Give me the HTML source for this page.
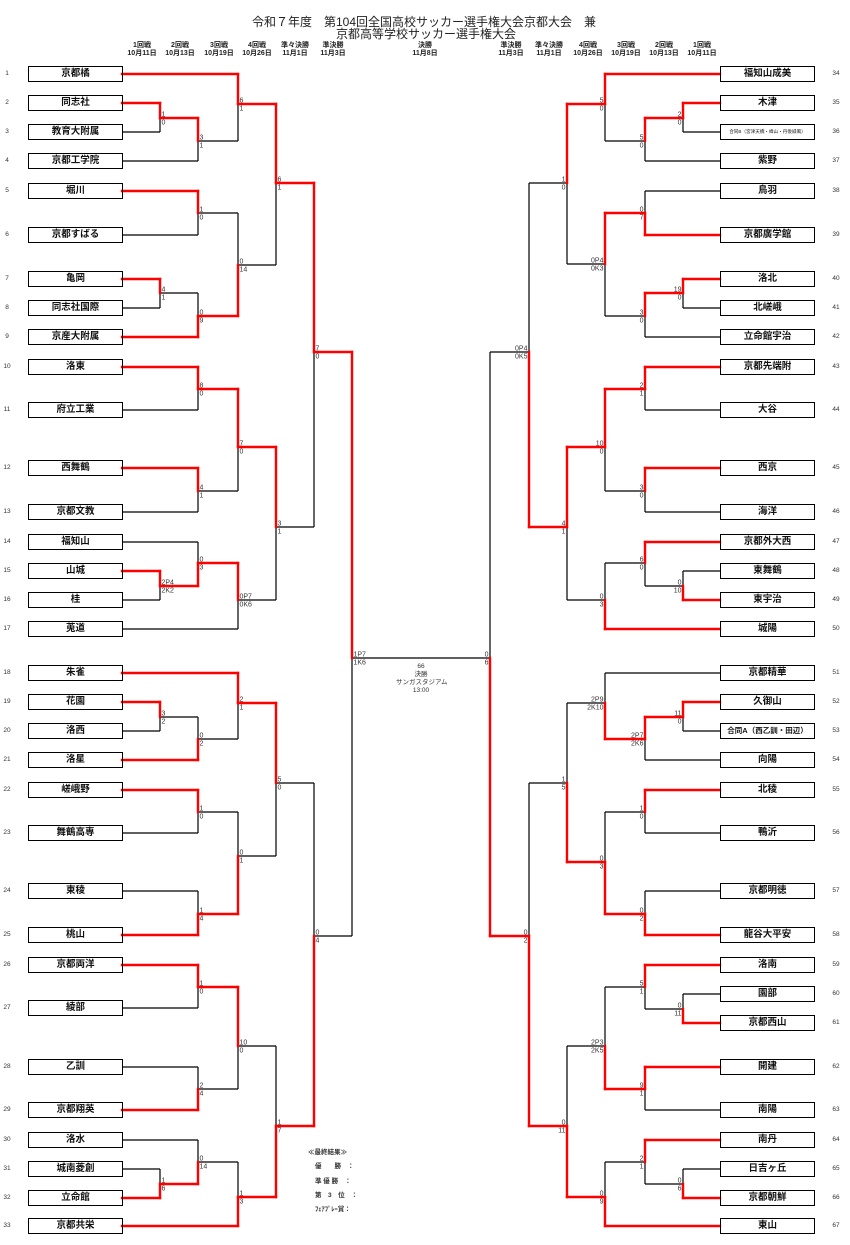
<!DOCTYPE html>
<html><head><meta charset="utf-8">
<style>
html,body{margin:0;padding:0;background:#fff;}
body{width:850px;height:1245px;position:relative;overflow:hidden;font-family:"Liberation Sans","Noto Sans CJK JP",sans-serif;color:#111;}
.b{position:absolute;width:95px;height:16px;border:1.4px solid #000;box-sizing:border-box;font-size:9.5px;line-height:13px;text-align:center;font-weight:bold;white-space:nowrap;overflow:hidden;}
.l{left:28px}.r{left:720px}
.n{position:absolute;font-size:6.5px;width:20px;text-align:center;color:#333;}
.nl{left:-3px}.nr{left:826px}
.h{position:absolute;font-size:7px;font-weight:bold;text-align:center;width:50px;line-height:8px;color:#222;}
.t{position:absolute;font-size:12px;color:#222;white-space:nowrap;}
.s{position:absolute;font-size:6.5px;color:#333;white-space:nowrap;}
svg{position:absolute;left:0;top:0;}
</style></head><body>
<div class="t" style="left:252px;top:13px">令和７年度　第104回全国高校サッカー選手権大会京都大会　兼</div>
<div class="t" style="left:336px;top:25px">京都高等学校サッカー選手権大会</div>

<div class="h" style="left:117px;top:42px">1回戦<br>10月11日</div>
<div class="h" style="left:155px;top:42px">2回戦<br>10月13日</div>
<div class="h" style="left:194px;top:42px">3回戦<br>10月19日</div>
<div class="h" style="left:232px;top:42px">4回戦<br>10月26日</div>
<div class="h" style="left:270px;top:42px">準々決勝<br>11月1日</div>
<div class="h" style="left:308px;top:42px">準決勝<br>11月3日</div>
<div class="h" style="left:400px;top:42px">決勝<br>11月8日</div>
<div class="h" style="left:486px;top:42px">準決勝<br>11月3日</div>
<div class="h" style="left:524px;top:42px">準々決勝<br>11月1日</div>
<div class="h" style="left:563px;top:42px">4回戦<br>10月26日</div>
<div class="h" style="left:601px;top:42px">3回戦<br>10月19日</div>
<div class="h" style="left:639px;top:42px">2回戦<br>10月13日</div>
<div class="h" style="left:677px;top:42px">1回戦<br>10月11日</div>

<svg id="g" width="850" height="1245" xmlns="http://www.w3.org/2000/svg"></svg>

<!-- left teams -->
<div class="b l" style="top:66px">京都橘</div><div class="n nl" style="top:70px">1</div>
<div class="b l" style="top:95px">同志社</div><div class="n nl" style="top:99px">2</div>
<div class="b l" style="top:124px">教育大附属</div><div class="n nl" style="top:128px">3</div>
<div class="b l" style="top:153px">京都工学院</div><div class="n nl" style="top:157px">4</div>
<div class="b l" style="top:183px">堀川</div><div class="n nl" style="top:187px">5</div>
<div class="b l" style="top:227px">京都すばる</div><div class="n nl" style="top:231px">6</div>
<div class="b l" style="top:271px">亀岡</div><div class="n nl" style="top:275px">7</div>
<div class="b l" style="top:300px">同志社国際</div><div class="n nl" style="top:304px">8</div>
<div class="b l" style="top:329px">京産大附属</div><div class="n nl" style="top:333px">9</div>
<div class="b l" style="top:359px">洛東</div><div class="n nl" style="top:363px">10</div>
<div class="b l" style="top:402px">府立工業</div><div class="n nl" style="top:406px">11</div>
<div class="b l" style="top:460px">西舞鶴</div><div class="n nl" style="top:464px">12</div>
<div class="b l" style="top:504px">京都文教</div><div class="n nl" style="top:508px">13</div>
<div class="b l" style="top:534px">福知山</div><div class="n nl" style="top:538px">14</div>
<div class="b l" style="top:563px">山城</div><div class="n nl" style="top:567px">15</div>
<div class="b l" style="top:592px">桂</div><div class="n nl" style="top:596px">16</div>
<div class="b l" style="top:621px">莵道</div><div class="n nl" style="top:625px">17</div>
<div class="b l" style="top:665px">朱雀</div><div class="n nl" style="top:669px">18</div>
<div class="b l" style="top:694px">花園</div><div class="n nl" style="top:698px">19</div>
<div class="b l" style="top:723px">洛西</div><div class="n nl" style="top:727px">20</div>
<div class="b l" style="top:752px">洛星</div><div class="n nl" style="top:756px">21</div>
<div class="b l" style="top:782px">嵯峨野</div><div class="n nl" style="top:786px">22</div>
<div class="b l" style="top:825px">舞鶴高専</div><div class="n nl" style="top:829px">23</div>
<div class="b l" style="top:883px">東稜</div><div class="n nl" style="top:887px">24</div>
<div class="b l" style="top:927px">桃山</div><div class="n nl" style="top:931px">25</div>
<div class="b l" style="top:957px">京都両洋</div><div class="n nl" style="top:961px">26</div>
<div class="b l" style="top:1000px">綾部</div><div class="n nl" style="top:1004px">27</div>
<div class="b l" style="top:1059px">乙訓</div><div class="n nl" style="top:1063px">28</div>
<div class="b l" style="top:1102px">京都翔英</div><div class="n nl" style="top:1106px">29</div>
<div class="b l" style="top:1132px">洛水</div><div class="n nl" style="top:1136px">30</div>
<div class="b l" style="top:1161px">城南菱創</div><div class="n nl" style="top:1165px">31</div>
<div class="b l" style="top:1190px">立命館</div><div class="n nl" style="top:1194px">32</div>
<div class="b l" style="top:1218px">京都共栄</div><div class="n nl" style="top:1222px">33</div>

<!-- right teams -->
<div class="b r" style="top:66px">福知山成美</div><div class="n nr" style="top:70px">34</div>
<div class="b r" style="top:95px">木津</div><div class="n nr" style="top:99px">35</div>
<div class="b r" style="top:124px;font-size:4.6px;font-weight:normal">合同B（宮津天橋・峰山・丹後緑風）</div><div class="n nr" style="top:128px">36</div>
<div class="b r" style="top:153px">紫野</div><div class="n nr" style="top:157px">37</div>
<div class="b r" style="top:183px">鳥羽</div><div class="n nr" style="top:187px">38</div>
<div class="b r" style="top:227px">京都廣学館</div><div class="n nr" style="top:231px">39</div>
<div class="b r" style="top:271px">洛北</div><div class="n nr" style="top:275px">40</div>
<div class="b r" style="top:300px">北嵯峨</div><div class="n nr" style="top:304px">41</div>
<div class="b r" style="top:329px">立命館宇治</div><div class="n nr" style="top:333px">42</div>
<div class="b r" style="top:359px">京都先端附</div><div class="n nr" style="top:363px">43</div>
<div class="b r" style="top:402px">大谷</div><div class="n nr" style="top:406px">44</div>
<div class="b r" style="top:460px">西京</div><div class="n nr" style="top:464px">45</div>
<div class="b r" style="top:504px">海洋</div><div class="n nr" style="top:508px">46</div>
<div class="b r" style="top:534px">京都外大西</div><div class="n nr" style="top:538px">47</div>
<div class="b r" style="top:563px">東舞鶴</div><div class="n nr" style="top:567px">48</div>
<div class="b r" style="top:592px">東宇治</div><div class="n nr" style="top:596px">49</div>
<div class="b r" style="top:621px">城陽</div><div class="n nr" style="top:625px">50</div>
<div class="b r" style="top:665px">京都精華</div><div class="n nr" style="top:669px">51</div>
<div class="b r" style="top:694px">久御山</div><div class="n nr" style="top:698px">52</div>
<div class="b r" style="top:723px;font-size:7.5px">合同A（西乙訓・田辺）</div><div class="n nr" style="top:727px">53</div>
<div class="b r" style="top:752px">向陽</div><div class="n nr" style="top:756px">54</div>
<div class="b r" style="top:782px">北稜</div><div class="n nr" style="top:786px">55</div>
<div class="b r" style="top:825px">鴨沂</div><div class="n nr" style="top:829px">56</div>
<div class="b r" style="top:883px">京都明徳</div><div class="n nr" style="top:887px">57</div>
<div class="b r" style="top:927px">龍谷大平安</div><div class="n nr" style="top:931px">58</div>
<div class="b r" style="top:957px">洛南</div><div class="n nr" style="top:961px">59</div>
<div class="b r" style="top:986px">園部</div><div class="n nr" style="top:990px">60</div>
<div class="b r" style="top:1015px">京都西山</div><div class="n nr" style="top:1019px">61</div>
<div class="b r" style="top:1059px">開建</div><div class="n nr" style="top:1063px">62</div>
<div class="b r" style="top:1102px">南陽</div><div class="n nr" style="top:1106px">63</div>
<div class="b r" style="top:1132px">南丹</div><div class="n nr" style="top:1136px">64</div>
<div class="b r" style="top:1161px">日吉ヶ丘</div><div class="n nr" style="top:1165px">65</div>
<div class="b r" style="top:1190px">京都朝鮮</div><div class="n nr" style="top:1194px">66</div>
<div class="b r" style="top:1218px">東山</div><div class="n nr" style="top:1222px">67</div>

<div class="s" style="left:396px;top:663px;width:50px;text-align:center;line-height:8px">66<br>決勝<br>サンガスタジアム<br>13:00</div>

<div class="s" style="left:308px;top:1146px;font-weight:bold">≪最終結果≫</div>
<div class="s" style="left:315px;top:1160px;font-weight:bold">優　　勝　：</div>
<div class="s" style="left:315px;top:1175px;font-weight:bold">準 優 勝　：</div>
<div class="s" style="left:315px;top:1189px;font-weight:bold">第　3　位　：</div>
<div class="s" style="left:315px;top:1203px;font-weight:bold">ﾌｪｱﾌﾟﾚｰ賞：</div>

<script>
var g=document.getElementById('g'),blk='',red='',txt='';
var LY=[74,103,132,161,191,235,279,308,337,367,410,468,512,542,571,600,629,673,702,731,760,790,833,891,935,965,1008,1067,1110,1140,1169,1198,1226];
var RY=[74,103,132,161,191,235,279,308,337,367,410,468,512,542,571,600,629,673,702,731,760,790,833,891,935,965,994,1023,1067,1110,1140,1169,1198,1226];
function L(i){return {x:122,y:LY[i-1]};}
function R(i){return {x:720,y:RY[i-34]};}
function seg(x1,y1,x2,y2,r){var s='<line x1="'+x1+'" y1="'+y1+'" x2="'+x2+'" y2="'+y2+'"/>';if(r)red+=s;else blk+=s;}
function M(side,x,a,b,oy,w,s1,s2){
 [a,b].forEach(function(c,i){var r=(i===w);seg(c.x,c.y,x,c.y,r);seg(x,c.y,x,oy,r);});
 if(side==='L'){txt+='<text x="'+(x+1.5)+'" y="'+(oy-1.5)+'">'+s1+'</text><text x="'+(x+1.5)+'" y="'+(oy+6.5)+'">'+s2+'</text>';}
 else{txt+='<text text-anchor="end" x="'+(x-1.5)+'" y="'+(oy-1.5)+'">'+s1+'</text><text text-anchor="end" x="'+(x-1.5)+'" y="'+(oy+6.5)+'">'+s2+'</text>';}
 return {x:x,y:oy};
}
var m1=M('L',160,L(2),L(3),118,0,'1','0');
var m2=M('L',198,m1,L(4),141,0,'3','1');
var m3=M('L',238,L(1),m2,104,0,'6','1');
var m4=M('L',198,L(5),L(6),213,0,'1','0');
var m5=M('L',160,L(7),L(8),293,0,'4','1');
var m6=M('L',198,m5,L(9),316,1,'0','9');
var m7=M('L',238,m4,m6,265,1,'0','14');
var m8=M('L',276,m3,m7,183,0,'6','1');
var m9=M('L',198,L(10),L(11),389,0,'8','0');
var m10=M('L',198,L(12),L(13),491,0,'4','1');
var m11=M('L',238,m9,m10,447,0,'7','0');
var m12=M('L',160,L(15),L(16),586,0,'2P4','2K2');
var m13=M('L',198,L(14),m12,563,1,'0','3');
var m14=M('L',238,m13,L(17),600,0,'0P7','0K6');
var m15=M('L',276,m11,m14,527,0,'3','1');
var m16=M('L',314,m8,m15,352,0,'7','0');
var m17=M('L',160,L(19),L(20),717,0,'3','2');
var m18=M('L',198,m17,L(21),739,1,'0','2');
var m19=M('L',238,L(18),m18,703,0,'2','1');
var m20=M('L',198,L(22),L(23),812,0,'1','0');
var m21=M('L',198,L(24),L(25),914,1,'1','4');
var m22=M('L',238,m20,m21,856,1,'0','1');
var m23=M('L',276,m19,m22,783,0,'5','0');
var m24=M('L',198,L(26),L(27),987,0,'1','0');
var m25=M('L',198,L(28),L(29),1089,1,'2','4');
var m26=M('L',238,m24,m25,1046,0,'10','0');
var m27=M('L',160,L(31),L(32),1184,1,'1','6');
var m28=M('L',198,L(30),m27,1162,1,'0','14');
var m29=M('L',238,m28,L(33),1197,1,'1','3');
var m30=M('L',276,m26,m29,1126,1,'1','7');
var m31=M('L',314,m23,m30,936,1,'0','4');
M('L',352,m16,m31,658,0,'1P7','1K6');

var r1=M('R',683,R(35),R(36),118,0,'2','0');
var r2=M('R',645,r1,R(37),141,0,'5','0');
var r3=M('R',605,R(34),r2,104,0,'5','0');
var r4=M('R',645,R(38),R(39),213,1,'0','7');
var r5=M('R',683,R(40),R(41),293,0,'19','0');
var r6=M('R',645,r5,R(42),316,0,'3','0');
var r7=M('R',605,r4,r6,264,0,'0P4','0K3');
var r8=M('R',567,r3,r7,183,0,'1','0');
var r9=M('R',645,R(43),R(44),389,0,'2','1');
var r10=M('R',645,R(45),R(46),491,0,'3','0');
var r11=M('R',605,r9,r10,447,0,'10','0');
var r12=M('R',683,R(48),R(49),586,1,'0','10');
var r13=M('R',645,R(47),r12,563,0,'6','0');
var r14=M('R',605,r13,R(50),600,1,'0','3');
var r15=M('R',567,r11,r14,527,0,'4','1');
var r16=M('R',529,r8,r15,352,1,'0P4','0K5');
var r17=M('R',683,R(52),R(53),717,0,'11','0');
var r18=M('R',645,r17,R(54),739,0,'2P7','2K6');
var r19=M('R',605,R(51),r18,703,1,'2P9','2K10');
var r20=M('R',645,R(55),R(56),812,0,'1','0');
var r21=M('R',645,R(57),R(58),914,1,'0','2');
var r22=M('R',605,r20,r21,862,1,'0','3');
var r23=M('R',567,r19,r22,783,1,'1','5');
var r24=M('R',683,R(60),R(61),1009,1,'0','11');
var r25=M('R',645,R(59),r24,987,0,'5','1');
var r26=M('R',645,R(62),R(63),1089,0,'9','1');
var r27=M('R',605,r25,r26,1046,1,'2P3','2K5');
var r28=M('R',683,R(65),R(66),1184,1,'0','6');
var r29=M('R',645,R(64),r28,1162,0,'2','1');
var r30=M('R',605,r29,R(67),1197,1,'0','9');
var r31=M('R',567,r27,r30,1126,1,'0','11');
var r32=M('R',529,r23,r31,936,1,'0','2');
M('R',490,r16,r32,658,1,'0','6');
seg(352,658,490,658,false);
g.innerHTML='<g stroke="#000" stroke-width="1.2" fill="none">'+blk+'</g><g stroke="#f00" stroke-width="2.4" fill="none" stroke-linecap="square">'+red+'</g><g font-family="Liberation Sans, sans-serif" font-size="7" fill="#333">'+txt+'</g>';
</script>
</body></html>
